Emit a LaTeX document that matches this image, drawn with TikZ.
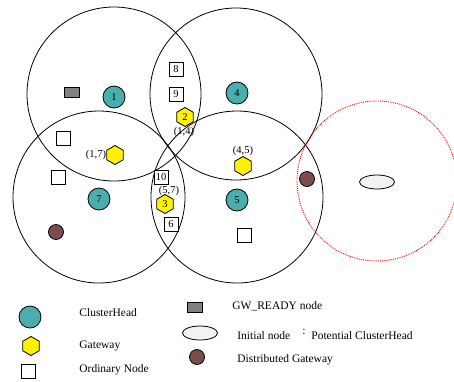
\documentclass[tikz,border=0pt]{standalone}
\usepackage{fontspec}
\setmainfont{Liberation Serif}
\usetikzlibrary{shapes.geometric}

\definecolor{chteal}{RGB}{74,174,174}
\definecolor{gwbrown}{RGB}{122,76,76}

\tikzset{
    clusterhead/.style={circle,draw,fill=chteal,minimum size=22pt,inner sep=0pt,font=\fontsize{10.5}{12}\selectfont},
    gateway/.style={regular polygon,regular polygon sides=6,shape border rotate=30,draw,fill=yellow,minimum size=19pt,inner sep=0pt,font=\fontsize{10.5}{12}\selectfont},
    ordinary/.style={rectangle,draw,fill=white,minimum size=14pt,inner sep=0pt,font=\fontsize{10.5}{12}\selectfont},
    gwready/.style={rectangle,draw,fill=gray,minimum width=15pt,minimum height=10pt,inner sep=0pt},
    initial/.style={ellipse,draw,fill=gray!10,minimum width=35pt,minimum height=14pt,inner sep=0pt},
    distgw/.style={circle,draw,fill=gwbrown,minimum size=15pt,inner sep=0pt},
    pairlabel/.style={inner sep=0pt,font=\fontsize{10.5}{12}\selectfont},
    legendtext/.style={anchor=west,inner sep=0pt,font=\fontsize{11.5}{13}\selectfont}
}

\begin{document}
\begin{tikzpicture}[x=1pt,y=-1pt,line width=0.8pt]
    \useasboundingbox (0,0) rectangle (454,381);

% cluster ranges
    \draw (114,94) circle [radius=87pt];
    \draw (236,94) circle [radius=86pt];
    \draw (99,197) circle [radius=86pt];
    \draw (237,197) circle [radius=86pt];

% range of the initial node
    \draw[red,densely dotted,line width=0.9pt] (377,181) circle [radius=80pt];

% cluster heads
    \node[clusterhead] (ch1) at (114,97) {1};
    \node[clusterhead] (ch4) at (237,93) {4};
    \node[clusterhead] (ch7) at (99,199) {7};
    \node[clusterhead] (ch5) at (237,200) {5};

% gateways and their cluster pairs
    \node[gateway] (gw2) at (185,117) {2};
    \node[pairlabel] (p14) at (184,132) {(1,4)};
    \node[gateway] (gw17) at (115,155) {};
    \node[pairlabel] (p17) at (96,155) {(1,7)};
    \node[gateway] (gw45) at (243,166) {};
    \node[pairlabel] (p45) at (243,151) {(4,5)};
    \node[gateway] (gw3) at (165,204) {3};

% ordinary nodes
    \node[ordinary] (on8) at (176,69) {8};
    \node[ordinary] (on9) at (176,94) {9};
    \node[ordinary] (onA) at (63,138) {};
    \node[ordinary] (onB) at (58,177) {};
    \node[ordinary] (on10) at (161,177) {10};
    \node[pairlabel] (p57) at (169,191) {(5,7)};
    \node[ordinary] (on6) at (171,224) {6};
    \node[ordinary] (onC) at (244,235) {};

% other node types
    \node[gwready] (ready) at (72,92) {};
    \node[distgw] (dg7) at (56,232) {};
    \node[distgw] (dgR) at (307,179) {};
    \node[initial] (init) at (377,182) {};

% legend
    \node[clusterhead] (lch) at (30,317) {};
    \node[legendtext] (tch) at (79,313) {ClusterHead};
    \node[gateway] (lgw) at (31,346) {};
    \node[legendtext] (tgw) at (79,346) {Gateway};
    \node[ordinary] (lon) at (28,371) {};
    \node[legendtext] (ton) at (79,370) {Ordinary Node};
    \node[gwready] (lready) at (195,307) {};
    \node[legendtext] (tready) at (232,306) {GW\_READY node};
    \node[initial] (linit) at (200,333) {};
    \node[legendtext] (tinit) at (237,336) {Initial node};
    \node[legendtext] (tcolon) at (302,332) {:};
    \node[legendtext] (tpot) at (311,336) {Potential ClusterHead};
    \node[distgw] (ldg) at (197,357) {};
    \node[legendtext] (tdg) at (237,360) {Distributed Gateway};

\end{tikzpicture}
\end{document}
